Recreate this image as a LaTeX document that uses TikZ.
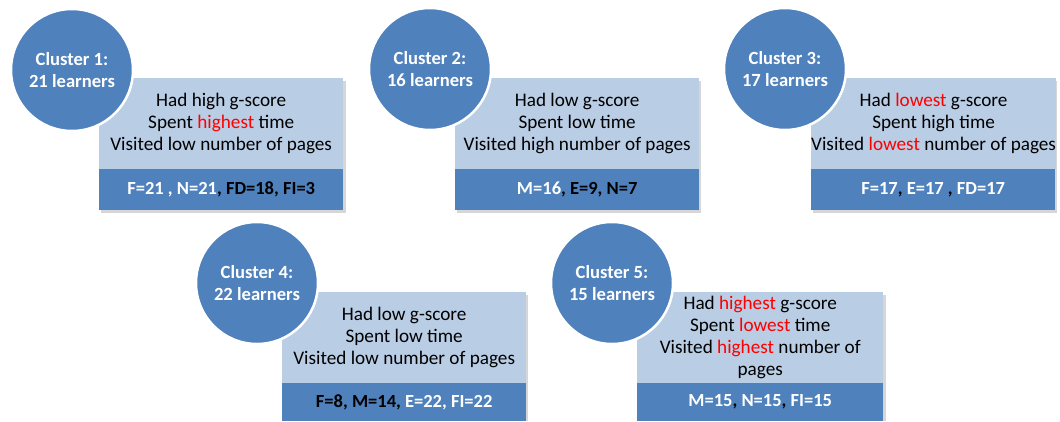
\documentclass[tikz,border=0pt]{standalone}
\usepackage{fontspec}
\setmainfont{Carlito}
\definecolor{cblue}{HTML}{4F81BD}
\definecolor{clight}{HTML}{B9CDE5}
\definecolor{hl}{HTML}{FF0000}
\newcommand{\wt}[1]{\textcolor{white}{#1}}
\newcommand{\rd}[1]{\textcolor{hl}{#1}}
\tikzset{
  circ/.style={circle, fill=cblue, draw=white, line width=2.5pt, minimum size=122pt,
    inner sep=0pt, text=white, align=center, font=\fontsize{18.6}{22}\selectfont\bfseries},
  info/.style={fill=clight, minimum width=244pt, minimum height=91pt, inner sep=0pt,
    anchor=north west, align=center, text=black, font=\fontsize{19.2}{22}\selectfont},
  stats/.style={fill=cblue, minimum width=244pt, minimum height=41pt, inner sep=0pt,
    anchor=north west, text=black, font=\fontsize{18.5}{21}\selectfont\bfseries},
  shad/.style={fill=black!16},
}
\begin{document}
\begin{tikzpicture}[x=1pt,y=-1pt]
\useasboundingbox (0,0) rectangle (1060,421);
% shadows
\fill[shad] (101,81) rectangle (346,213);
\fill[shad] (457,81) rectangle (701,213);
\fill[shad] (813,81) rectangle (1057,213);
\fill[shad] (284,295) rectangle (528,421);
\fill[shad] (639,295) rectangle (886,421);
% cluster 1
\node[info] (i1) at (99,78) {Had high g-score\\Spent \rd{highest} time\\Visited low number of pages};
\node[stats] (s1) at (99,169) {\wt{F=21 , N=21}, FD=18, FI=3};
\node[circ] (c1) at (72,70) {Cluster 1:\\21 learners};
% cluster 2
\node[info] (i2) at (455,78) {Had low g-score\\Spent low time\\Visited high number of pages};
\node[stats] (s2) at (455,169) {\wt{M=16}, E=9, N=7};
\node[circ] (c2) at (430,69) {Cluster 2:\\16 learners};
% cluster 3
\node[info] (i3) at (811,78) {Had \rd{lowest} g-score\\Spent high time\\Visited \rd{lowest} number of pages};
\node[stats] (s3) at (811,169) {\wt{F=17}, \wt{E=17} , \wt{FD=17}};
\node[circ] (c3) at (785,69) {Cluster 3:\\17 learners};
% cluster 4
\node[info] (i4) at (282,292) {Had low g-score\\Spent low time\\Visited low number of pages};
\node[stats, minimum height=38pt] (s4) at (282,383) {F=8, M=14, \wt{E=22,\ FI=22}};
\node[circ] (c4) at (257,283) {Cluster 4:\\22 learners};
% cluster 5
\node[info, minimum width=246pt] (i5) at (637,292) {Had \rd{highest} g-score\\Spent \rd{lowest} time\\Visited \rd{highest} number of\\pages};
\node[stats, minimum width=246pt, minimum height=38pt] (s5) at (637,383) {\wt{M=15}, \wt{N=15}, \wt{FI=15}};
\node[circ] (c5) at (612,283) {Cluster 5:\\15 learners};
\end{tikzpicture}
\end{document}
